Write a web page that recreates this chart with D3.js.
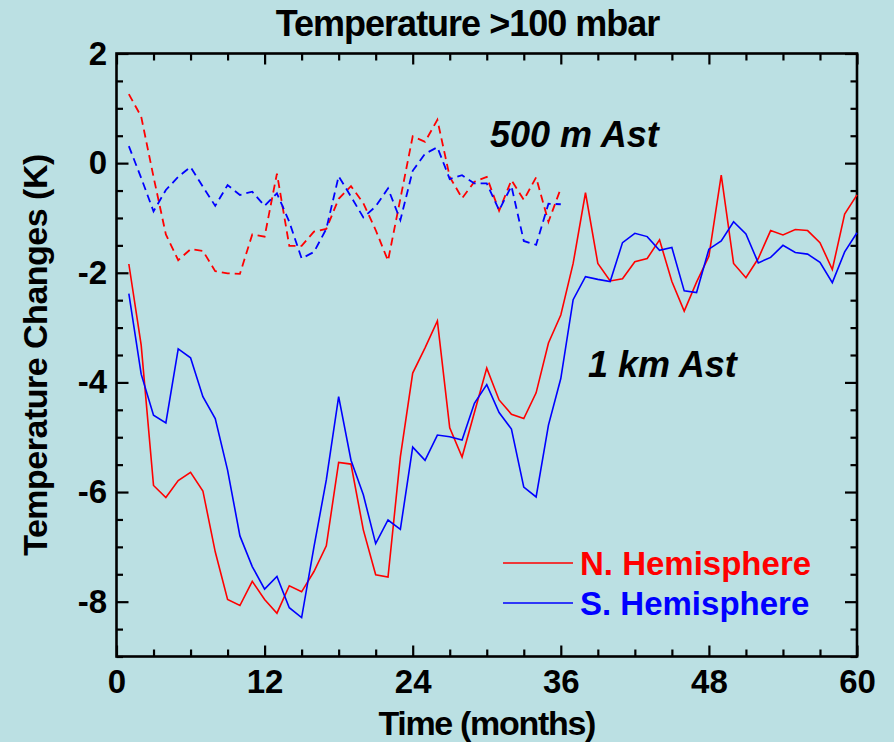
<!DOCTYPE html>
<html>
<head>
<meta charset="utf-8">
<script src="https://cdn.jsdelivr.net/npm/d3@7/dist/d3.min.js"></script>
<style>
  html, body { margin: 0; padding: 0; background: #bbe0e3; }
  svg { display: block; }
  text { font-family: "Liberation Sans", Arial, Helvetica, sans-serif; font-weight: bold; }
</style>
</head>
<body>
<svg id="chart" width="894" height="742"></svg>
<script>
// Monthly temperature changes above 100 mbar after an asteroid impact
const months = [1,2,3,4,5,6,7,8,9,10,11,12,13,14,15,16,17,18,19,20,
                21,22,23,24,25,26,27,28,29,30,31,32,33,34,35,36,37,38,39,40,
                41,42,43,44,45,46,47,48,49,50,51,52,53,54,55,56,57,58,59,60];

// 1 km asteroid, northern hemisphere (K)
const nh1km = [-1.84,-3.32,-5.88,-6.10,-5.79,-5.64,-5.98,-7.09,-7.96,-8.07,
               -7.63,-7.96,-8.21,-7.71,-7.82,-7.45,-6.98,-5.46,-5.49,-6.69,
               -7.51,-7.55,-5.36,-3.83,-3.37,-2.88,-4.83,-5.36,-4.55,-3.74,
               -4.32,-4.58,-4.66,-4.19,-3.28,-2.77,-1.83,-0.54,-1.83,-2.15,
               -2.11,-1.80,-1.74,-1.40,-2.16,-2.70,-2.17,-1.70,-0.22,-1.83,
               -2.09,-1.74,-1.23,-1.31,-1.21,-1.23,-1.45,-1.94,-0.93,-0.58];

// 1 km asteroid, southern hemisphere (K)
const sh1km = [-2.38,-3.85,-4.60,-4.74,-3.39,-3.55,-4.26,-4.66,-5.60,-6.80,
               -7.36,-7.77,-7.54,-8.11,-8.29,-7.00,-5.78,-4.26,-5.42,-6.05,
               -6.94,-6.51,-6.68,-5.18,-5.42,-4.96,-4.99,-5.05,-4.38,-4.04,
               -4.55,-4.85,-5.91,-6.09,-4.78,-3.93,-2.49,-2.07,-2.12,-2.16,
               -1.45,-1.28,-1.34,-1.59,-1.54,-2.33,-2.36,-1.57,-1.42,-1.07,
               -1.29,-1.82,-1.72,-1.50,-1.63,-1.66,-1.81,-2.18,-1.62,-1.27];

// 500 m asteroid runs cover the first 36 months
const months500 = [1,2,3,4,5,6,7,8,9,10,11,12,13,14,15,16,17,18,
                   19,20,21,22,23,24,25,26,27,28,29,30,31,32,33,34,35,36];

const nh500m = [1.26,0.85,-0.25,-1.30,-1.77,-1.57,-1.60,-1.97,-2.01,-2.02,
                -1.30,-1.34,-0.19,-1.51,-1.51,-1.25,-1.20,-0.65,-0.42,-0.73,
                -1.22,-1.78,-0.65,0.49,0.39,0.79,-0.25,-0.64,-0.34,-0.25,
                -0.87,-0.31,-0.67,-0.26,-1.07,-0.46];

const sh500m = [0.31,-0.27,-0.88,-0.49,-0.25,-0.07,-0.43,-0.78,-0.40,-0.58,
                -0.52,-0.78,-0.55,-1.07,-1.74,-1.62,-1.20,-0.24,-0.61,-0.99,
                -0.79,-0.46,-1.04,-0.14,0.17,0.29,-0.29,-0.22,-0.37,-0.37,
                -0.86,-0.42,-1.42,-1.49,-0.74,-0.75];

// Axis ticks
const xTickLabels = [0, 12, 24, 36, 48, 60];
const yTickLabels = [2, 0, -2, -4, -6, -8];

const seriesNames = ["N. Hemisphere", "S. Hemisphere"];
const seriesColors = ["#ff0000", "#0000ff"];

const W = 894, H = 742;
const margin = { top: 53.5, right: 37, bottom: 85.5, left: 116.5 };

const svg = d3.select("#chart");

svg.append("rect").attr("width", W).attr("height", H).attr("fill", "#bbe0e3");

const x = d3.scaleLinear().domain([0, 60]).range([margin.left, W - margin.right]);
const y = d3.scaleLinear().domain([-9, 2]).range([H - margin.bottom, margin.top]);

const xMinor = d3.range(0, 61, 3).filter(v => v % 12 !== 0);
const yMinor = d3.range(-9, 2.001, 0.5).filter(v => v % 2 !== 0);

const bottomY = H - margin.bottom, topY = margin.top;
const leftX = margin.left, rightX = W - margin.right;

function styleAxis(g, size) {
  g.select(".domain").remove();
  g.selectAll(".tick line").attr("stroke", "#000").attr("stroke-width", 2.2);
  g.selectAll(".tick text")
    .attr("fill", "#000")
    .style("font-size", size + "px")
    .style("font-family", '"Liberation Sans", Arial, sans-serif')
    .style("font-weight", "bold");
}

// bottom axis: labelled major ticks and short minor ticks, all pointing inward
svg.append("g").attr("transform", `translate(0,${bottomY})`)
  .call(d3.axisBottom(x).tickValues(xTickLabels).tickSize(-11).tickPadding(13).tickFormat(d => String(d)))
  .call(g => styleAxis(g, 33));
svg.append("g").attr("transform", `translate(0,${bottomY})`)
  .call(d3.axisBottom(x).tickValues(xMinor).tickSize(-7).tickFormat(""))
  .call(g => styleAxis(g, 33));

// top axis mirrors the bottom ticks
svg.append("g").attr("transform", `translate(0,${topY})`)
  .call(d3.axisTop(x).tickValues(xTickLabels).tickSize(-11).tickFormat(""))
  .call(g => styleAxis(g, 33));
svg.append("g").attr("transform", `translate(0,${topY})`)
  .call(d3.axisTop(x).tickValues(xMinor).tickSize(-7).tickFormat(""))
  .call(g => styleAxis(g, 33));

// left axis
svg.append("g").attr("transform", `translate(${leftX},0)`)
  .call(d3.axisLeft(y).tickValues(yTickLabels).tickSize(-12).tickPadding(9.5).tickFormat(d => String(d)))
  .call(g => styleAxis(g, 33));
svg.append("g").attr("transform", `translate(${leftX},0)`)
  .call(d3.axisLeft(y).tickValues(yMinor).tickSize(-6.5).tickFormat(""))
  .call(g => styleAxis(g, 33));

// right axis mirrors the left ticks
svg.append("g").attr("transform", `translate(${rightX},0)`)
  .call(d3.axisRight(y).tickValues(yTickLabels).tickSize(-12).tickFormat(""))
  .call(g => styleAxis(g, 33));
svg.append("g").attr("transform", `translate(${rightX},0)`)
  .call(d3.axisRight(y).tickValues(yMinor).tickSize(-6.5).tickFormat(""))
  .call(g => styleAxis(g, 33));

// plot frame
svg.append("rect")
  .attr("x", leftX).attr("y", topY)
  .attr("width", rightX - leftX).attr("height", bottomY - topY)
  .attr("fill", "none").attr("stroke", "#000").attr("stroke-width", 2.6);

// data lines
const line = d3.line().x(d => x(d[0])).y(d => y(d[1]));

function drawSeries(xs, ys, color, dashed) {
  svg.append("path")
    .datum(xs.map((m, i) => [m, ys[i]]))
    .attr("d", line)
    .attr("fill", "none")
    .attr("stroke", color)
    .attr("stroke-width", dashed ? 1.8 : 1.6)
    .attr("stroke-linejoin", "miter")
    .attr("stroke-dasharray", dashed ? "8,5" : null);
}

drawSeries(months500, nh500m, seriesColors[0], true);
drawSeries(months500, sh500m, seriesColors[1], true);
drawSeries(months, nh1km, seriesColors[0], false);
drawSeries(months, sh1km, seriesColors[1], false);

// titles
svg.append("text")
  .attr("x", 467.5).attr("y", 36)
  .attr("text-anchor", "middle")
  .style("font-size", "36px").style("letter-spacing", "-1px")
  .text("Temperature >100 mbar");

svg.append("text")
  .attr("x", (leftX + rightX) / 2).attr("y", 735)
  .attr("text-anchor", "middle")
  .style("font-size", "34px").style("letter-spacing", "-1.3px")
  .text("Time (months)");

svg.append("text")
  .attr("transform", `translate(47,${(topY + bottomY) / 2}) rotate(-90)`)
  .attr("text-anchor", "middle")
  .style("font-size", "34px").style("letter-spacing", "-0.5px")
  .text("Temperature Changes (K)");

// run annotations
svg.append("text")
  .attr("x", 490).attr("y", 147)
  .style("font-size", "36px").style("font-style", "italic")
  .text("500 m Ast");

svg.append("text")
  .attr("x", 588).attr("y", 377)
  .style("font-size", "36px").style("font-style", "italic")
  .text("1 km Ast");

// legend
const legend = svg.append("g");
seriesNames.forEach((name, i) => {
  const ly = 563 + i * 40;
  legend.append("line")
    .attr("x1", 503).attr("x2", 573).attr("y1", ly).attr("y2", ly)
    .attr("stroke", seriesColors[i]).attr("stroke-width", 1.6);
  legend.append("text")
    .attr("x", 580).attr("y", ly + 12)
    .attr("fill", seriesColors[i])
    .style("font-size", "33px")
    .text(name);
});
</script>
</body>
</html>
